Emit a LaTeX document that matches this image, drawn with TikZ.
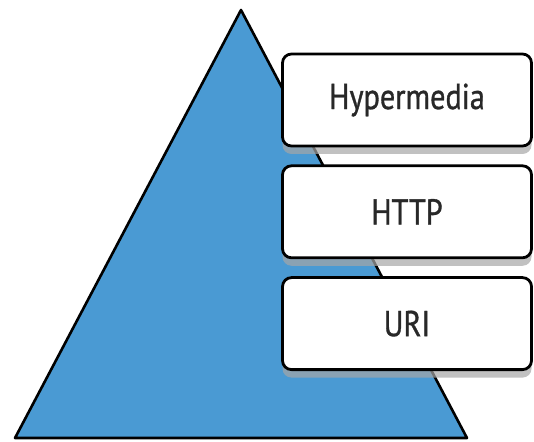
\documentclass[tikz,border=0pt]{standalone}
\usepackage{fontspec}
\setmainfont[FakeStretch=0.84,FakeBold=0.9]{PT Sans}
\usetikzlibrary{positioning}
\usetikzlibrary{shadows}
\definecolor{pyramidBlue}{RGB}{74,154,211}
\definecolor{labelGray}{RGB}{40,40,40}

\begin{document}
\begin{tikzpicture}[x=1pt,y=1pt,
        node distance=17pt,
        pyramidNode/.style = {fill=pyramidBlue,draw=black,line width=2.6pt,line join=round},
        layerNode/.style = {draw=black,fill=white,line width=2.8pt,rounded corners=9pt,minimum width=249pt,minimum height=92pt,
            inner sep=0pt,text=labelGray,font=\fontsize{36}{36}\selectfont,
            drop shadow={shadow xshift=0pt,shadow yshift=-8pt,fill=gray!70,opacity=0.7}}
        ]
        \useasboundingbox (0,0) rectangle (534,441);
        \coordinate (top) at (241,431);
        \coordinate (left) at (15,3);
        \coordinate (right) at (467,3);
        \draw[pyramidNode] (top) -- (left) -- (right) -- cycle;
        \node[layerNode] (hypermedia) at (407,341) {Hypermedia};
        \node[layerNode,below=of hypermedia] (http) {HTTP};
        \node[layerNode,below=of http] (uri) {URI};
    \end{tikzpicture}
\end{document}
